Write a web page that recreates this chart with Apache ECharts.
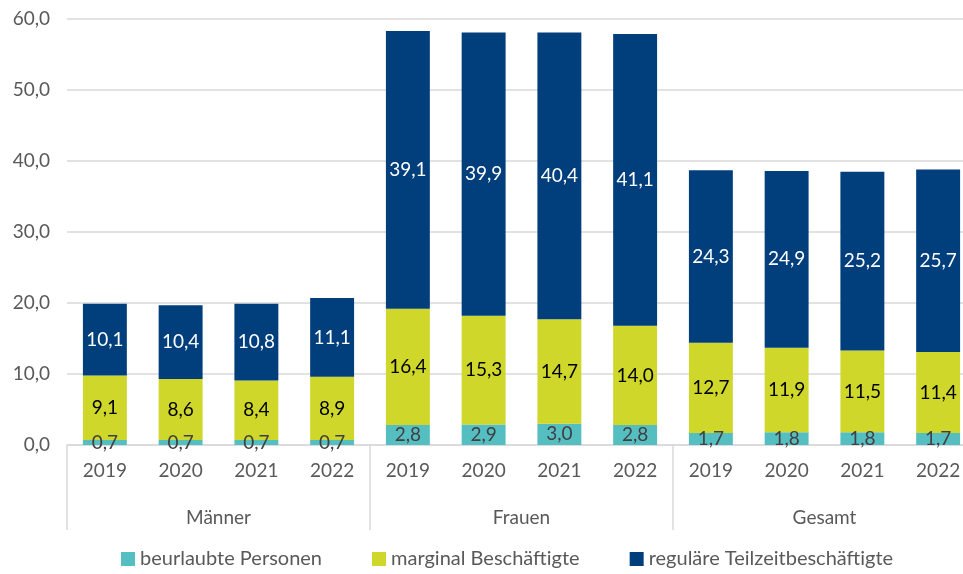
<!DOCTYPE html>
<html>
<head>
<meta charset="UTF-8">
<title></title>
<script src="https://cdn.jsdelivr.net/npm/echarts@6/dist/echarts.min.js"></script>
<style>
    html, body { margin: 0; padding: 0; background: #fff; }
</style>
</head>
<body>
<div id="content" style="width: 963px;height:574px;"></div>
<script>
    // Daten
    var jahre = ['2019', '2020', '2021', '2022', '2019', '2020', '2021', '2022', '2019', '2020', '2021', '2022'];
    var gruppen = ['Männer', 'Frauen', 'Gesamt'];
    var beurlaubt = [0.7, 0.7, 0.7, 0.7, 2.8, 2.9, 3.0, 2.8, 1.7, 1.8, 1.8, 1.7];
    var marginal = [9.1, 8.6, 8.4, 8.9, 16.4, 15.3, 14.7, 14.0, 12.7, 11.9, 11.5, 11.4];
    var regulaer = [10.1, 10.4, 10.8, 11.1, 39.1, 39.9, 40.4, 41.1, 24.3, 24.9, 25.2, 25.7];

    var schrift = 'Lato';
    function komma(v) {
        return Number(v).toFixed(1).replace('.', ',');
    }
    function serie(name, data, farbe, textFarbe) {
        return {
            name: name,
            type: 'bar',
            stack: 'gesamt',
            xAxisIndex: 0,
            barWidth: '58%',
            itemStyle: { color: farbe },
            label: {
                show: true,
                position: 'inside',
                color: textFarbe,
                fontFamily: schrift,
                fontSize: 19,
                formatter: function (p) { return komma(p.value); }
            },
            data: data
        };
    }

    var myChart = echarts.init(document.getElementById('content'));

    var option = {
        animation: false,
        grid: { left: 67, top: 19, width: 909, height: 426, outerBoundsMode: 'none' },
        legend: {
            bottom: 0,
            left: 116,
            icon: 'rect',
            itemWidth: 14,
            itemHeight: 14,
            itemGap: 50,
            textStyle: { color: '#595959', fontFamily: schrift, fontSize: 20 },
            data: ['beurlaubte Personen', 'marginal Beschäftigte', 'reguläre Teilzeitbeschäftigte']
        },
        xAxis: [
            {
                type: 'category',
                data: jahre,
                position: 'bottom',
                axisLine: { lineStyle: { color: '#D9D9D9', width: 1.5 } },
                axisTick: { show: false },
                axisLabel: { color: '#595959', fontFamily: schrift, fontSize: 19, margin: 16, interval: 0 }
            },
            {
                type: 'category',
                data: gruppen,
                position: 'bottom',
                axisLine: { show: false },
                axisTick: { show: true, length: 85, interval: 0, lineStyle: { color: '#D9D9D9', width: 1.5 } },
                axisLabel: { color: '#595959', fontFamily: schrift, fontSize: 19, margin: 63, interval: 0 }
            }
        ],
        yAxis: {
            type: 'value',
            min: 0,
            max: 60,
            interval: 10,
            axisLine: { show: false },
            axisTick: { show: false },
            splitLine: { lineStyle: { color: '#D9D9D9', width: 1.5 } },
            axisLabel: {
                color: '#595959',
                fontFamily: schrift,
                fontSize: 19,
                margin: 17,
                formatter: function (v) { return komma(v); }
            }
        },
        series: [
            serie('beurlaubte Personen', beurlaubt, '#55BEC1', '#404040'),
            serie('marginal Beschäftigte', marginal, '#CFD72B', '#000000'),
            serie('reguläre Teilzeitbeschäftigte', regulaer, '#003E7C', '#FFFFFF')
        ]
    };

    myChart.setOption(option);
</script>
</body>
</html>
